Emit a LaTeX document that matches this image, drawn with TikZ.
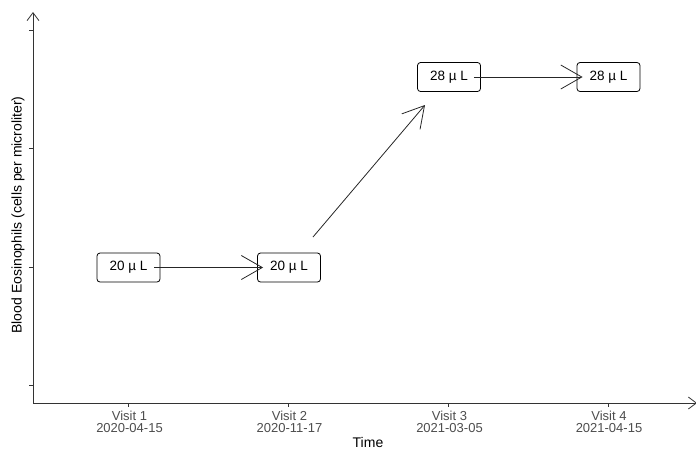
\documentclass[tikz,border=0pt]{standalone}
\usepackage{fontspec}
\setmainfont{Liberation Sans}
\usetikzlibrary{arrows.meta,calc}
\definecolor{axisgrey}{HTML}{333333}
\definecolor{ticktext}{HTML}{4D4D4D}
\begin{document}
\begin{tikzpicture}[x=1pt,y=-1pt,
  valbox/.style={draw=black,line width=0.8pt,rounded corners=3pt,minimum width=63pt,minimum height=29pt,inner sep=0pt,fill=white,font=\fontsize{13.5}{15}\selectfont},
  link/.style={line width=0.8pt,draw=black!85,-{Straight Barb[length=21pt,width=24pt,line width=0.8pt]}},
  axisline/.style={line width=0.8pt,draw=axisgrey},
  axisarrow/.style={axisline,-{Straight Barb[length=8pt,width=12pt,line width=0.8pt]}},
  tickmark/.style={line width=0.8pt,draw=axisgrey},
  ticklabel/.style={font=\fontsize{13}{11.5}\selectfont,text=ticktext,align=center,inner sep=0pt},
  axistitle/.style={font=\fontsize{14}{16}\selectfont,inner sep=0pt}]
\useasboundingbox (0,0) rectangle (696,451);
% axes
\coordinate (origin) at (33,403);
\coordinate (ytop) at (33,12);
\coordinate (xend) at (697,403);
\draw[axisarrow] (origin) -- (ytop);
\draw[axisarrow] (origin) -- (xend);
% y ticks
\foreach \yy in {30,148,267,385} \draw[tickmark] (29,\yy) -- (33,\yy);
% x ticks and labels
\foreach \xx/\nm/\dt [count=\i] in {128.5/Visit 1/2020-04-15,288.5/Visit 2/2020-11-17,448.5/Visit 3/2021-03-05,608/Visit 4/2021-04-15}{
  \draw[tickmark] (\xx,403) -- (\xx,407);
  \node[ticklabel] (t\i) at (\xx+1,422) {\nm\\\dt};
}
\node[axistitle] (xt) at (368,442) {Time};
\node[axistitle,rotate=90] (yt) at (18,215) {Blood Eosinophils (cells per microliter)};
% boxes
\node[valbox] (b1) at (128.5,267.5) {20 µ L};
\node[valbox] (b2) at (289,267.5) {20 µ L};
\node[valbox] (b3) at (449,77) {28 µ L};
\node[valbox] (b4) at (608.5,77) {28 µ L};
% arrow endpoints
\coordinate (a1s) at ($(b1.east)+(-6,0)$);
\coordinate (a1e) at ($(b2.west)+(6,0)$);
\coordinate (a2s) at (313,237);
\coordinate (a2e) at (425,105);
\coordinate (a3s) at ($(b3.east)+(-7,0)$);
\coordinate (a3e) at ($(b4.west)+(6,0)$);
\draw[link] (a1s) -- (a1e);
\draw[link] (a2s) -- (a2e);
\draw[link] (a3s) -- (a3e);
\end{tikzpicture}
\end{document}
